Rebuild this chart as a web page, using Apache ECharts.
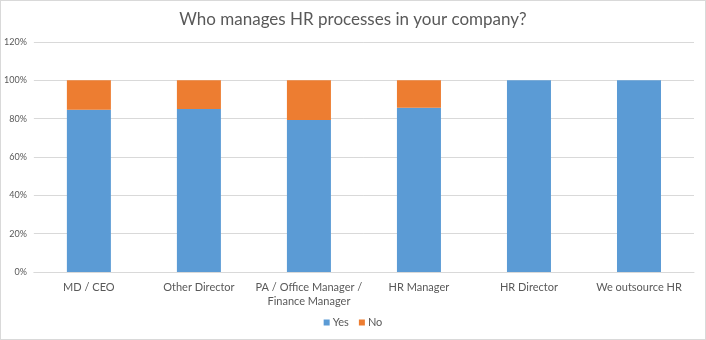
<!DOCTYPE html>
<html>
<head>
<meta charset="utf-8">
<script src="https://cdn.jsdelivr.net/npm/echarts@6/dist/echarts.min.js"></script>
<style>
  html, body { margin: 0; padding: 0; background: #fff; }
  #chart { width: 704px; height: 338px; border: 1px solid #d9d9d9; }
</style>
</head>
<body>
<div id="chart"></div>
<script>
// Who handles HR in the company: share answering Yes / No (percent)
const categories = ['MD / CEO', 'Other Director', 'PA / Office Manager /\nFinance Manager', 'HR Manager', 'HR Director', 'We outsource HR'];
const yesValues = [84.7, 85.0, 79.3, 85.7, 100, 100];
const noValues = [15.3, 15.0, 20.7, 14.3, 0, 0];
const seriesNames = ['Yes', 'No'];

const font = 'Lato, "Open Sans", sans-serif';
const chart = echarts.init(document.getElementById('chart'));
chart.setOption({
  animation: false,
  title: {
    text: 'Who manages HR processes in your company?',
    left: 'center',
    top: 5,
    textStyle: { fontFamily: font, fontSize: 17, fontWeight: 'normal', color: '#595959' }
  },
  legend: {
    data: seriesNames,
    bottom: 6,
    left: 'center',
    itemWidth: 6,
    itemHeight: 6,
    itemGap: 10,
    icon: 'rect',
    textStyle: { fontFamily: font, fontSize: 11, color: '#595959', padding: [0, 0, 0, -2] }
  },
  grid: { left: 31, right: 11, top: 41, bottom: 67, containLabel: false },
  xAxis: {
    type: 'category',
    data: categories,
    axisLine: { lineStyle: { color: '#d9d9d9' } },
    axisTick: { show: false },
    axisLabel: { fontFamily: font, fontSize: 11, color: '#595959', margin: 8, lineHeight: 14, interval: 0 }
  },
  yAxis: {
    type: 'value',
    min: 0,
    max: 120,
    interval: 20,
    axisLabel: { formatter: '{value}%', fontFamily: font, fontSize: 9, color: '#595959', margin: 7 },
    axisLine: { show: false },
    axisTick: { show: false },
    splitLine: { lineStyle: { color: '#d9d9d9' } }
  },
  series: [
    {
      name: seriesNames[0],
      type: 'bar',
      stack: 'total',
      data: yesValues,
      barWidth: '40%',
      itemStyle: { color: '#5b9bd5' }
    },
    {
      name: seriesNames[1],
      type: 'bar',
      stack: 'total',
      data: noValues,
      barWidth: '40%',
      itemStyle: { color: '#ed7d31' }
    }
  ]
});
</script>
</body>
</html>
